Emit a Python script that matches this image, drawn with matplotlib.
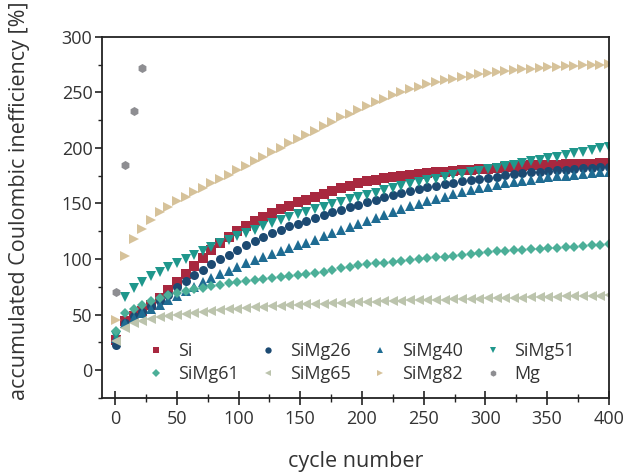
import matplotlib
matplotlib.use("Agg")
import matplotlib.pyplot as plt
from matplotlib.ticker import MultipleLocator

plt.rcParams['font.family'] = ['Open Sans', 'DejaVu Sans']

cycles = [1, 8, 15, 22, 29, 36, 43, 50, 57, 64, 71, 78, 85, 92, 99, 106, 113, 120,
          127, 134, 141, 148, 155, 162, 169, 176, 183, 190, 197, 204, 211, 218, 225,
          232, 239, 246, 253, 260, 267, 274, 281, 288, 295, 302, 309, 316, 323, 330,
          337, 344, 351, 358, 365, 372, 379, 386, 393, 400]

si = [27, 44, 49, 53, 59, 65, 72.5, 79, 86.5, 94, 101, 108, 114.5, 120, 125.5, 130,
      134, 138, 141.5, 145, 148, 151, 153.5, 156, 158.5, 161, 164, 166, 168, 170,
      171.3, 172.5, 173.7, 174.8, 175.6, 176.4, 177.2, 178, 178.6, 179.2, 179.7,
      180.2, 180.8, 181.4, 182, 182.6, 183.1, 183.6, 184.2, 184.5, 184.8, 185,
      185.3, 185.5, 185.7, 185.9, 186.1, 186.3]

simg26 = [22.5, 42.5, 48.5, 52.5, 57.5, 62, 68, 74.5, 80, 85.5, 90.5, 95.5, 99.7,
          104, 108.5, 112.5, 116, 119.8, 123.2, 126.5, 129.5, 131.5, 134, 137,
          139.5, 142, 144.5, 146.8, 149, 151, 153.3, 155.5, 157.7, 159.8, 161.5,
          163, 164.6, 166, 167.3, 168.6, 169.8, 170.8, 171.9, 173, 174.2, 175.3,
          176.2, 177.1, 178, 178.7, 179.3, 179.9, 180.5, 181.1, 181.6, 182.1,
          182.6, 183]

simg40 = [29, 42, 46.5, 51, 55, 59, 63, 67, 71, 75, 79.5, 83, 86.5, 89.5, 93, 96,
          99, 102, 104.8, 107.5, 110, 112.3, 114.5, 117.5, 120.5, 123.5, 126.3,
          129, 131.6, 134.2, 137, 139.8, 142.5, 145, 147.5, 149.8, 152, 154.2,
          156.2, 158.2, 160.2, 161.9, 163.6, 165.2, 166.7, 168, 169.2, 170.4,
          171.5, 172.5, 173.4, 174.3, 175.1, 175.9, 176.6, 177.3, 178, 178.6]

simg51 = [31, 66, 73.5, 79.5, 85, 88.5, 92.5, 96, 100, 103.5, 107, 110.5, 114,
          117.5, 120.5, 123.5, 126.5, 129.5, 132.5, 135, 137.8, 140.3, 142.7,
          144.8, 147, 149.2, 151.4, 153.6, 155.6, 157.6, 159.8, 162, 164, 166,
          167.7, 169.3, 170.9, 172.4, 173.8, 175.2, 176.7, 178.2, 179.6, 181,
          182.3, 183.5, 184.9, 186.3, 187.8, 189.2, 190.6, 192, 193.5, 195, 196.5,
          198, 199.5, 201]

simg61 = [35, 51, 55.3, 59, 62, 65, 67.3, 69.5, 71.2, 72.8, 74.3, 75.6, 76.9, 78.1,
          79.2, 80.2, 81.1, 82, 82.9, 83.8, 84.7, 85.5, 86.4, 87.3, 88.2, 90, 91.5,
          93, 94.2, 95.2, 96, 96.8, 97.5, 98.3, 99.1, 99.9, 100.7, 101.4, 102.1,
          102.8, 103.6, 104.4, 105.2, 106, 106.8, 107.4, 107.9, 108.3, 108.7,
          109.1, 109.5, 109.9, 110.4, 111, 111.6, 112.2, 112.8, 113.4]

simg65 = [26, 37.5, 42, 44.2, 46.3, 47.8, 48.8, 49.9, 50.8, 51.6, 52.3, 53.1, 53.8,
          54.6, 55.2, 55.8, 56.4, 57, 57.5, 58, 58.4, 58.8, 59.2, 59.5, 59.8, 60.1,
          60.4, 60.7, 61, 61.3, 61.6, 61.9, 62.2, 62.5, 62.7, 62.9, 63.1, 63.3,
          63.5, 63.7, 63.9, 64.1, 64.3, 64.5, 64.7, 64.9, 65.1, 65.3, 65.5, 65.7,
          65.9, 66.1, 66.3, 66.5, 66.7, 66.9, 67.1, 67.3]

simg82 = [45, 103, 118, 127, 135, 142, 147, 152, 156, 160, 164, 168, 172, 176, 180,
          184, 188, 192, 196, 200, 204, 208, 211.5, 215.5, 219.5, 223.5, 227.5,
          231, 234.5, 238, 241.3, 244.5, 247.5, 250.3, 253, 255.3, 257.3, 259.2,
          260.9, 262.4, 263.8, 265.1, 266.3, 267.4, 268.4, 269.3, 270.1, 270.8,
          271.5, 272.1, 272.7, 273.2, 273.7, 274.1, 274.5, 274.8, 275.1, 275.4]

mg_cycles = [1, 8, 15, 22]
mg = [70, 185, 233, 272]

labels = ['Si', 'SiMg26', 'SiMg40', 'SiMg51', 'SiMg61', 'SiMg65', 'SiMg82', 'Mg']
colors = ['#a8283f', '#1c4a72', '#1f6c93', '#1f978c', '#4caf98', '#bcc4ad',
          '#d6c29a', '#8e8e92']
markers = ['s', 'o', '^', 'v', 'D', '<', '>', 'h']

series = [(cycles, si), (cycles, simg26), (cycles, simg40), (cycles, simg51),
          (cycles, simg61), (cycles, simg65), (cycles, simg82), (mg_cycles, mg)]

fig = plt.figure(figsize=(6.27, 4.73), dpi=100)
ax = fig.add_axes([0.163, 0.159, 0.808, 0.763])

handles = []
for (xs, ys), lab, c, m in zip(series, labels, colors, markers):
    ms = 5.5 if m == 'D' else 6.5
    h, = ax.plot(xs, ys, linestyle='none', marker=m, color=c, markersize=ms,
                 markeredgewidth=0, label=lab)
    handles.append(h)

ax.set_xlim(-10.5, 400)
ax.set_ylim(-25, 300)
ax.xaxis.set_major_locator(MultipleLocator(50))
ax.xaxis.set_minor_locator(MultipleLocator(25))
ax.yaxis.set_major_locator(MultipleLocator(50))
ax.yaxis.set_minor_locator(MultipleLocator(25))

for s in ax.spines.values():
    s.set_linewidth(1.3)
    s.set_color('#222222')

ax.tick_params(axis='y', which='major', direction='out', length=5, width=1.2,
               labelsize=13, colors='#222222', labelcolor='#333333', pad=2)
ax.tick_params(axis='y', which='minor', direction='out', length=3, width=1.0,
               colors='#222222')
ax.tick_params(axis='x', which='major', direction='inout', length=10, width=1.2,
               labelsize=13, colors='#222222', labelcolor='#333333', pad=4)
ax.tick_params(axis='x', which='minor', direction='inout', length=6, width=1.0,
               colors='#222222')

ax.set_xlabel('cycle number', fontsize=15.5, color='#333333', labelpad=16)
ax.set_ylabel('accumulated Coulombic inefficiency [%]', fontsize=15.5,
              color='#333333')
ax.yaxis.set_label_coords(-0.142, 0.545)

order = [0, 4, 1, 5, 2, 6, 3, 7]
leg = ax.legend([handles[i] for i in order], [labels[i] for i in order],
                ncol=4, frameon=False, loc='lower left',
                bbox_to_anchor=(0.06, 0.005), fontsize=13, markerscale=0.7,
                handlelength=1.2, handletextpad=0.6, columnspacing=1.05,
                labelspacing=0.3, borderpad=0.2)
for t in leg.get_texts():
    t.set_color('#333333')

fig.savefig('out.png', dpi=100)
